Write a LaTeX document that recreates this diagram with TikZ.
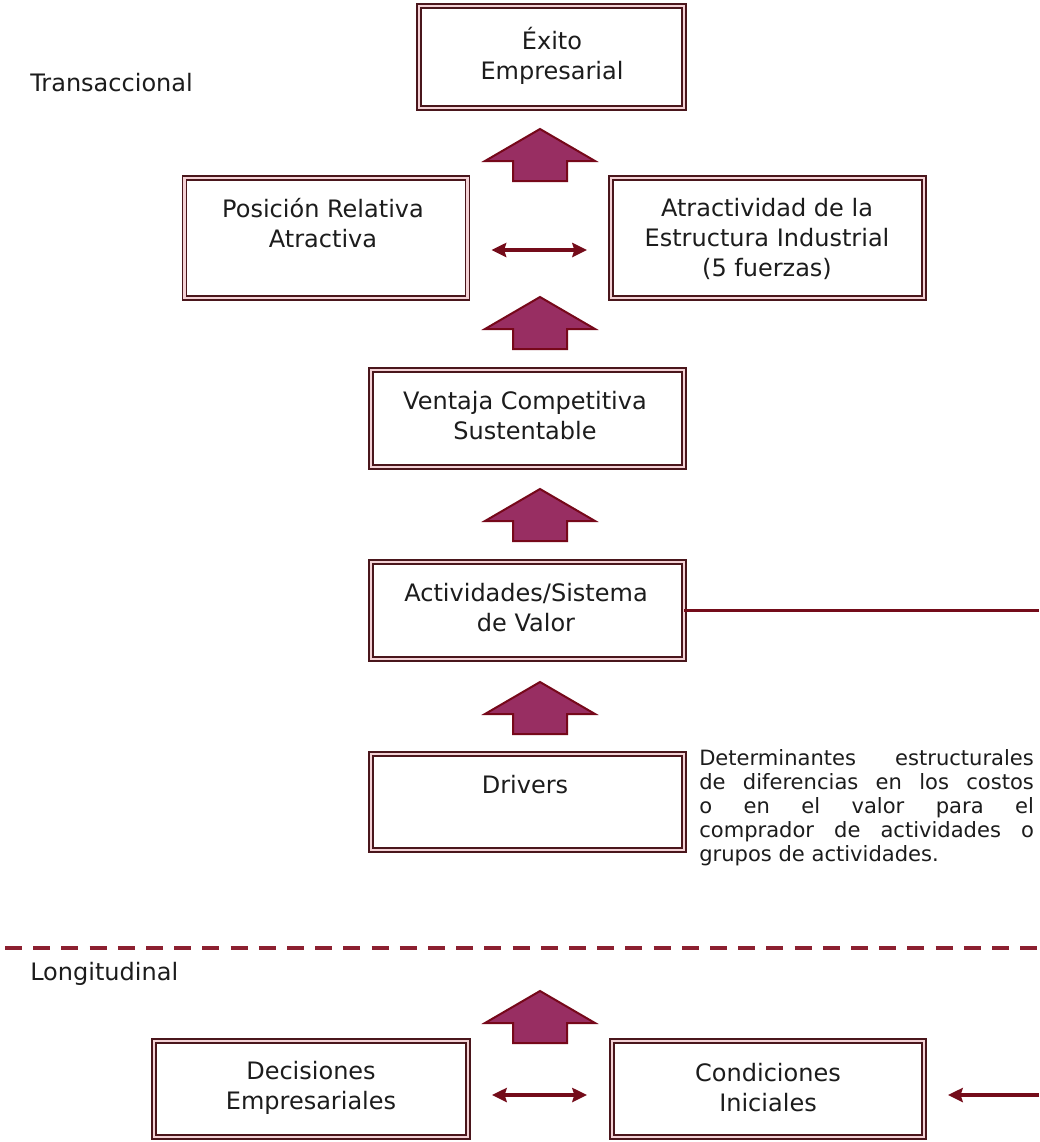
\documentclass[tikz,border=0pt]{standalone}
\usepackage{fontspec}
\setmainfont{DejaVu Sans}
\usetikzlibrary{arrows.meta}

\definecolor{boxline}{RGB}{74,22,28}
\definecolor{boxgap}{RGB}{244,210,214}
\definecolor{blockfill}{RGB}{152,46,98}
\definecolor{blockedge}{RGB}{118,8,26}
\definecolor{linkred}{RGB}{116,12,26}
\definecolor{dashred}{RGB}{140,32,48}
\definecolor{ink}{RGB}{28,28,28}

\begin{document}
\begin{tikzpicture}[x=0.75pt,y=-0.75pt,
  framebox/.style={draw=boxline, double=boxgap, double distance=2.2pt,
    line width=1.1pt, rectangle, inner sep=0pt, outer sep=0pt},
  boxtext/.style={align=center, inner sep=0pt, text=ink,
    font=\fontsize{18pt}{22.5pt}\selectfont},
  sidelabel/.style={anchor=base west, inner sep=0pt, text=ink,
    font=\fontsize{18pt}{22.5pt}\selectfont},
  link/.style={draw=linkred, line width=2.5pt},
  linktip/.tip={Stealth[length=11pt,width=10.5pt,inset=1.5pt]},
  uparrow/.pic={
    \draw[draw=blockedge, fill=blockfill, line width=1.5pt, line join=miter]
      (0,0) -- (55,32) -- (27,32) -- (27,52) -- (-27,52) -- (-27,32)
      -- (-55,32) -- cycle;
  }
]
\useasboundingbox (0,0) rectangle (1039,1142);
\fill[white] (0,0) rectangle (1039,1142);

% section labels
\node[sidelabel] (trans) at (30,91) {Transaccional};
\node[sidelabel] (longi) at (30,980) {Longitudinal};

% double framed boxes
\node[framebox, minimum width=265*0.75pt, minimum height=102*0.75pt] (exito) at (551.5,57) {};
\node[framebox, minimum width=283*0.75pt, minimum height=120*0.75pt] (pos) at (326,238) {};
\node[framebox, minimum width=313*0.75pt, minimum height=120*0.75pt] (atr) at (767.5,238) {};
\node[framebox, minimum width=313*0.75pt, minimum height=97*0.75pt] (vent) at (527.5,418.5) {};
\node[framebox, minimum width=313*0.75pt, minimum height=97*0.75pt] (act) at (527.5,610.5) {};
\node[framebox, minimum width=313*0.75pt, minimum height=96*0.75pt] (drv) at (527.5,802) {};
\node[framebox, minimum width=314*0.75pt, minimum height=96*0.75pt] (dec) at (311,1089) {};
\node[framebox, minimum width=312*0.75pt, minimum height=96*0.75pt] (cond) at (768,1089) {};

% box captions
\node[boxtext] (exitoT) at (552,55.5) {Éxito\\Empresarial};
\node[boxtext] (posT) at (323,223) {Posición Relativa\\Atractiva};
\node[boxtext] (atrT) at (767,238.5) {Atractividad de la\\Estructura Industrial\\(5 fuerzas)};
\node[boxtext] (ventT) at (525,415.5) {Ventaja Competitiva\\Sustentable};
\node[boxtext] (actT) at (526,607.5) {Actividades/Sistema\\de Valor};
\node[boxtext] (drvT) at (525,785) {Drivers};
\node[boxtext] (decT) at (311,1088) {Decisiones\\Empresariales};
\node[boxtext] (condT) at (768,1088) {Condiciones\\Iniciales};

% explanatory note beside the drivers
\node[anchor=north west, inner sep=0pt, align=left, text=ink,
  font=\fontsize{15.8pt}{18pt}\selectfont] (note) at (699,749)
  {\makebox[251pt][s]{Determinantes estructurales}\\
   \makebox[251pt][s]{de diferencias en los costos}\\
   \makebox[251pt][s]{o en el valor para el}\\
   \makebox[251pt][s]{comprador de actividades o}\\
   grupos de actividades.};

% block arrows between the levels
\pic (up1) at (540,129) {uparrow};
\pic (up2) at (540,297) {uparrow};
\pic (up3) at (540,489) {uparrow};
\pic (up4) at (540,682) {uparrow};
\pic (up5) at (540,991) {uparrow};

% two-way links
\draw[link, {linktip}-{linktip}, shorten <=24*0.75pt, shorten >=24*0.75pt]
  ([yshift=-9pt]pos.east) -- ([yshift=-9pt]atr.west);
\draw[link, {linktip}-{linktip}, shorten <=24*0.75pt, shorten >=25*0.75pt]
  ([yshift=-4.5pt]dec.east) -- ([yshift=-4.5pt]cond.west);

% feedback from the value system to the initial conditions
\coordinate (edgeA) at (1039,610.5);
\coordinate (edgeB) at (1039,1095);
\draw[link] (act.east) -- (edgeA);
\draw[link, -{linktip}, shorten >=24*0.75pt] (edgeB) -- ([yshift=-4.5pt]cond.east);

% divider between transactional and longitudinal levels
\coordinate (divL) at (5,948);
\coordinate (divR) at (1039,948);
\draw[dashred, line width=3pt, dash pattern=on 12.75pt off 8.4pt] (divL) -- (divR);
\end{tikzpicture}
\end{document}
